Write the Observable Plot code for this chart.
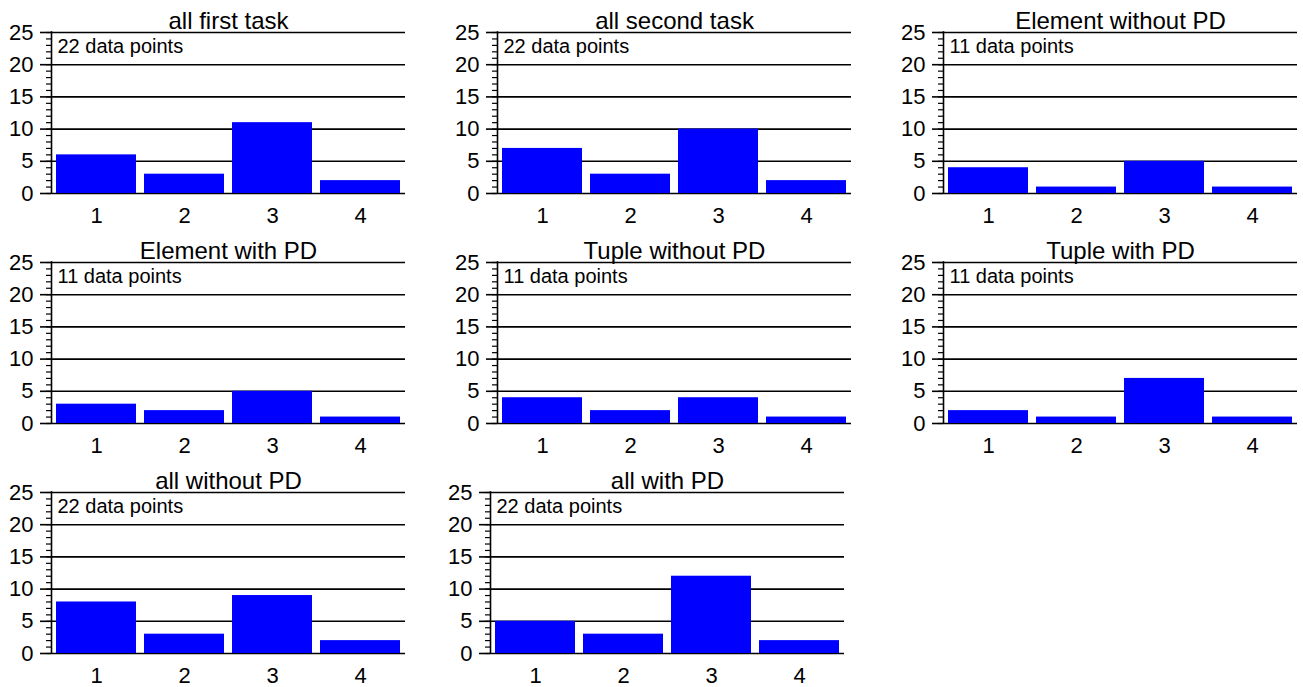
<!DOCTYPE html>
<html>
<head>
<meta charset="utf-8">
<script src="https://cdn.jsdelivr.net/npm/d3@7"></script>
<script src="https://cdn.jsdelivr.net/npm/@observablehq/plot@0.6"></script>
<style>
  html, body { margin: 0; padding: 0; background: #fff; }
  #root { position: relative; width: 1303px; height: 687px; overflow: hidden; }
  .panel { position: absolute; }
</style>
</head>
<body>
<div id="root"></div>
<script>
// ---- data ----
const categories = [1, 2, 3, 4];
const titles = [
  "all first task", "all second task", "Element without PD",
  "Element with PD", "Tuple without PD", "Tuple with PD",
  "all without PD", "all with PD"
];
const pointLabels = [
  "22 data points", "22 data points", "11 data points",
  "11 data points", "11 data points", "11 data points",
  "22 data points", "22 data points"
];
const allFirstTask      = [6, 3, 11, 2];
const allSecondTask     = [7, 3, 10, 2];
const elementWithoutPD  = [4, 1, 5, 1];
const elementWithPD     = [3, 2, 5, 1];
const tupleWithoutPD    = [4, 2, 4, 1];
const tupleWithPD       = [2, 1, 7, 1];
const allWithoutPD      = [8, 3, 9, 2];
const allWithPD         = [5, 3, 12, 2];
const seriesValues = [allFirstTask, allSecondTask, elementWithoutPD, elementWithPD,
                      tupleWithoutPD, tupleWithPD, allWithoutPD, allWithPD];
const majorTicks = [0, 5, 10, 15, 20, 25];
const minorTicks = d3.range(0, 26);

// ---- layout ----
const panelLefts = [0, 446, 892, 0, 446, 892, 0, 439];
const panelTops  = [0, 0, 0, 230, 230, 230, 460, 460];
const W = 411, H = 230;
const font = "'Liberation Sans', Arial, Helvetica, sans-serif";

const root = document.getElementById("root");

seriesValues.forEach((vals, i) => {
  const data = categories.map((c, j) => ({cat: c, count: vals[j]}));
  const chart = Plot.plot({
    width: W,
    height: H,
    marginLeft: 51,
    marginRight: 6,
    marginTop: 32,
    marginBottom: 37,
    style: {fontFamily: font, color: "black", background: "white", overflow: "visible"},
    x: {type: "band", domain: categories, paddingInner: 0.096, paddingOuter: 0.056, axis: null, label: null},
    y: {domain: [0, 25], axis: null, label: null},
    marks: [
      Plot.ruleY(majorTicks, {stroke: "black", strokeWidth: 1.6}),
      Plot.barY(data, {x: "cat", y: "count", fill: "#0000ff"}),
      Plot.axisY({ticks: minorTicks, tickSize: 5, tickFormat: () => "", strokeWidth: 1.2, label: null}),
      Plot.axisY({ticks: majorTicks, tickSize: 11, tickPadding: 7, fontSize: 22, strokeWidth: 1.6, tickFormat: d => String(d), label: null}),
      (index, scales) => {
        const ns = "http://www.w3.org/2000/svg";
        const ln = document.createElementNS(ns, "line");
        ln.setAttribute("x1", 51.5); ln.setAttribute("x2", 51.5);
        ln.setAttribute("y1", scales.y(0) + 0.8); ln.setAttribute("y2", scales.y(25) - 0.8);
        ln.setAttribute("stroke", "black"); ln.setAttribute("stroke-width", 1.6);
        return ln;
      },
      Plot.axisX({tickSize: 0, tickPadding: 14, fontSize: 22, label: null}),
      Plot.text([titles[i]], {frameAnchor: "top", dy: -4, lineAnchor: "bottom", fontSize: 24, fill: "black"}),
      Plot.text([pointLabels[i]], {frameAnchor: "top-left", dx: 6, dy: 6, lineAnchor: "top", textAnchor: "start", fontSize: 20, fill: "black"})
    ]
  });
  const div = document.createElement("div");
  div.className = "panel";
  div.style.left = panelLefts[i] + "px";
  div.style.top = panelTops[i] + "px";
  div.appendChild(chart);
  root.appendChild(div);
});
</script>
</body>
</html>
